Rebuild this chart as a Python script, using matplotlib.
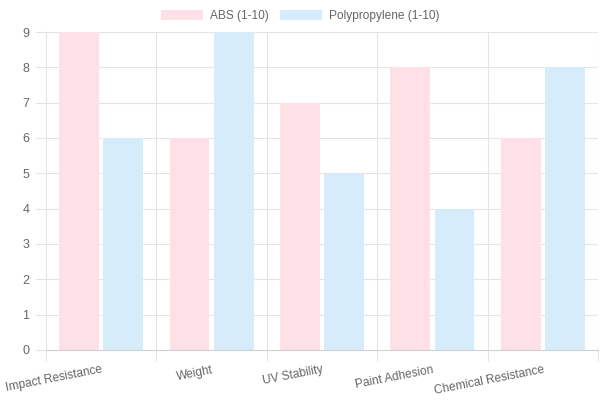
import matplotlib
matplotlib.use("Agg")
import matplotlib.pyplot as plt
from matplotlib.patches import Patch
import numpy as np

categories = ["Impact Resistance", "Weight", "UV Stability", "Paint Adhesion", "Chemical Resistance"]
abs_values = [9, 6, 7, 8, 6]
pp_values = [6, 9, 5, 4, 8]
series_names = ["ABS (1-10)", "Polypropylene (1-10)"]

plt.rcParams['font.family'] = ['Liberation Sans', 'DejaVu Sans']

fig = plt.figure(figsize=(6, 4), dpi=100)
ax = fig.add_axes([46/600, 1-350/400, (598-46)/600, (350-32)/400])

pink = "#ffe0e6"
blue = "#d7ecfb"
x = np.arange(len(categories))
w = 0.36
ax.bar(x - 0.2, abs_values, width=w, color=pink, zorder=2)
ax.bar(x + 0.2, pp_values, width=w, color=blue, zorder=2)

ax.set_xlim(-0.5, len(categories) - 0.5)
ax.set_ylim(0, 9)
ax.set_yticks(range(0, 10))
grid_c = "#e5e5e5"
for yv in range(1, 10):
    ax.axhline(yv, color=grid_c, lw=0.8, zorder=1)
for xv in np.arange(0.5, len(categories) - 0.5, 1):
    ax.axvline(xv, color=grid_c, lw=0.8, zorder=1)
ax.axvline(len(categories) - 0.5, color=grid_c, lw=0.8, zorder=1)

ax.set_xticks(x)
ax.set_xticklabels(categories, rotation=11, ha='right', rotation_mode='anchor', color="#666666", fontsize=8.6)
ax.tick_params(axis='x', length=0, pad=10)
ax.set_xticks(np.arange(-0.5, len(categories), 1), minor=True)
ax.tick_params(axis='x', which='minor', length=8, color=grid_c, width=0.8)
ax.tick_params(axis='y', length=8, color=grid_c, width=0.8, labelcolor="#666666", labelsize=9, pad=4)

for s in ['top', 'right']:
    ax.spines[s].set_visible(False)
ax.spines['left'].set_color(grid_c)
ax.spines['left'].set_linewidth(0.8)
ax.spines['bottom'].set_color("#d0d0d0")
ax.spines['bottom'].set_linewidth(0.8)

handles = [Patch(facecolor=pink, edgecolor='none'), Patch(facecolor=blue, edgecolor='none')]
fig.legend(handles, series_names, loc='center', bbox_to_anchor=(0.5, 1-16/400), ncol=2, frameon=False,
           fontsize=8.6, handlelength=3.5, handleheight=1.0, columnspacing=0.95, handletextpad=0.6,
           labelcolor="#666666")

fig.savefig("out.png", dpi=100)
